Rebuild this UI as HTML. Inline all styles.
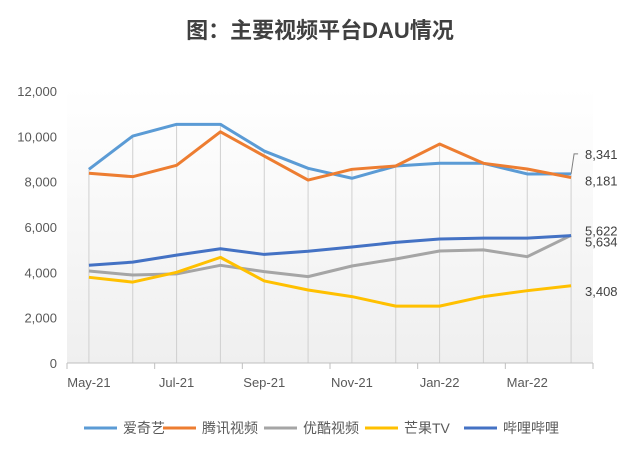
<!DOCTYPE html>
<html><head><meta charset="utf-8"><style>
body{margin:0;background:#fff;font-family:"Liberation Sans","Noto Sans CJK SC",sans-serif;}
svg text{font-family:"Liberation Sans","Noto Sans CJK SC",sans-serif;}
</style></head><body>
<svg id="chart" width="640" height="450" viewBox="0 0 640 450" xmlns="http://www.w3.org/2000/svg">
<defs><linearGradient id="bg" x1="0" y1="0" x2="0" y2="1"><stop offset="0" stop-color="#ffffff"/><stop offset="1" stop-color="#efefef"/></linearGradient></defs>
<text x="320" y="38" text-anchor="middle" font-size="22" font-weight="bold" fill="#404040">图：主要视频平台DAU情况</text>
<rect x="67" y="88" width="526" height="275" fill="url(#bg)"/>
<g id="drop"></g><g id="axes"></g><g id="lines"></g><g id="labels"></g><g id="legend"></g>
</svg>
<script>
const categories=["May-21","Jun-21","Jul-21","Aug-21","Sep-21","Oct-21","Nov-21","Dec-21","Jan-22","Feb-22","Mar-22","Apr-22"];
const iqiyi=[8545,10013,10530,10530,9350,8590,8150,8690,8810,8810,8340,8341];
const tencent=[8370,8220,8720,10200,9130,8070,8545,8690,9660,8810,8560,8181];
const youku=[4060,3880,3930,4310,4030,3810,4280,4590,4940,4990,4690,5634];
const mango=[3780,3570,4000,4660,3620,3220,2930,2510,2510,2930,3190,3408];
const bilibili=[4310,4450,4760,5040,4790,4930,5120,5320,5470,5510,5510,5622];
const yTicks=[0,2000,4000,6000,8000,10000,12000];
const seriesNames=["爱奇艺","腾讯视频","优酷视频","芒果TV","哔哩哔哩"];
const NS="http://www.w3.org/2000/svg";
const X0=67,X1=593,Y0=363,YT=91,YMAX=12000;
const step=(X1-X0)/categories.length;
const xs=i=>X0+step*(i+0.5);
const ys=v=>Y0-(v/YMAX)*(Y0-YT);
function mk(tag,attrs,parent,txt){const e=document.createElementNS(NS,tag);for(const k in attrs)e.setAttribute(k,attrs[k]);if(txt!==undefined)e.textContent=txt;parent.appendChild(e);return e;}
const all=[iqiyi,tencent,youku,mango,bilibili];
const colors=["#5B9BD5","#ED7D31","#A5A5A5","#FFC000","#4472C4"];
const drop=document.getElementById('drop');
categories.forEach((c,i)=>{const mx=Math.max(...all.map(s=>s[i]));
const l=mk('line',{x1:xs(i),x2:xs(i),y1:ys(mx),y2:Y0,stroke:'#d0d0d0','stroke-width':1},drop);

});
const ax=document.getElementById('axes');
const al=mk('line',{x1:X0,x2:X1,y1:Y0,y2:Y0,stroke:'#bfbfbf','stroke-width':1},ax);


for(let i=0;i<=categories.length;i+=2){const t=mk('line',{x1:X0+step*i,x2:X0+step*i,y1:Y0,y2:Y0+6,stroke:'#bfbfbf'},ax);

}
categories.forEach((c,i)=>{if(i%2)return;const t=mk('text',{x:xs(i),y:Y0+24,'text-anchor':'middle','font-size':13,fill:'#595959'},ax,c);

});
yTicks.forEach(v=>{const t=mk('text',{x:57,y:ys(v)+5,'text-anchor':'end','font-size':13,fill:'#595959'},ax,v.toLocaleString('en-US'));

});
const lg=document.getElementById('lines');
all.forEach((s,k)=>{const p=mk('polyline',{points:s.map((v,i)=>xs(i)+','+ys(v)).join(' '),fill:'none',stroke:colors[k],'stroke-width':3,'stroke-linejoin':'round'},lg);

});
const lb=document.getElementById('labels');
const last=categories.length-1;
const endIdx=[0,1,2,3,4];
const labY=[ys(iqiyi[last])-20,ys(tencent[last])+3,ys(youku[last])+6,ys(mango[last])+5,ys(bilibili[last])-5];
endIdx.forEach(k=>{const v=all[k][last];const t=mk('text',{x:585,y:labY[k]+5,'font-size':13,fill:'#404040'},lb,v.toLocaleString('en-US'));

});
const ld=mk('polyline',{points:`${xs(last)},${ys(iqiyi[last])} ${xs(last)+3},${labY[0]} ${xs(last)+7},${labY[0]}`,fill:'none',stroke:'#7f7f7f'},lb);


const leg=document.getElementById('legend');
const lx=[84,163,264,365,464];
seriesNames.forEach((n,k)=>{const g=mk('g',{},leg);


mk('line',{x1:lx[k],x2:lx[k]+33,y1:428,y2:428,stroke:colors[k],'stroke-width':3},g);
mk('text',{x:lx[k]+39,y:433,'font-size':14,fill:'#595959'},g,n);});
</script>
</body></html>
